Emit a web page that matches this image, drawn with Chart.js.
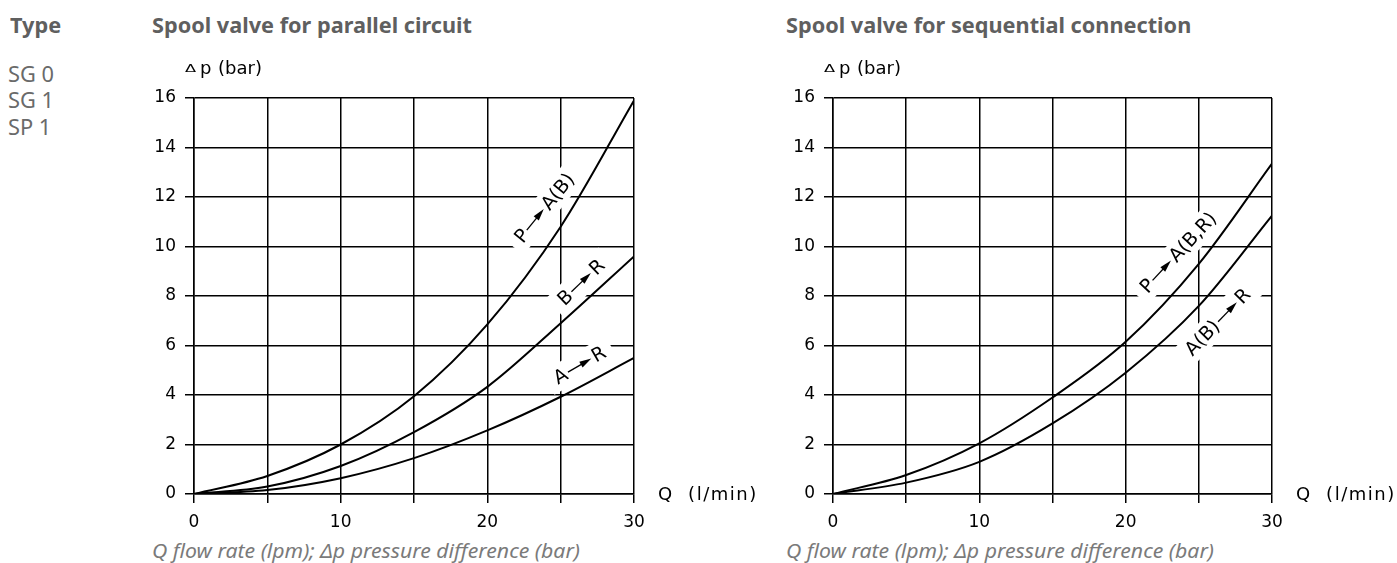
<!DOCTYPE html>
<html>
<head>
<meta charset="utf-8">
<script src="https://cdn.jsdelivr.net/npm/chart.js@4.4.1/dist/chart.umd.min.js"></script>
<style>
body{margin:0;background:#fff;width:1397px;height:563px;overflow:hidden;position:relative;font-family:"Noto Sans",sans-serif;}
.t{position:absolute;white-space:nowrap;transform-origin:0 50%;line-height:22px;}
.b{font-weight:bold;font-size:21px;color:#5f5f5f}
.r{font-size:21px;color:#6a6a6a}
.i{font-style:italic;font-size:20px;color:#7a7a7a}
canvas{position:absolute}
</style>
</head>
<body>
<div class="t b" style="left:10px;top:14px">Type</div>
<div class="t r" style="left:8px;top:63px">SG 0</div>
<div class="t r" style="left:8px;top:89px">SG 1</div>
<div class="t r" style="left:8px;top:116px">SP 1</div>

<div class="t b" id="title1" style="left:152px;top:14px">Spool valve for parallel circuit</div>
<div class="t b" style="left:786px;top:14px">Spool valve for sequential connection</div>

<div class="t i" id="cap1" style="left:152px;top:540px">Q flow rate (lpm); Δp pressure difference (bar)</div>
<div class="t i" style="left:786px;top:540px">Q flow rate (lpm); Δp pressure difference (bar)</div>

<canvas id="c1" width="640" height="480" style="left:130px;top:55px"></canvas>
<canvas id="c2" width="627" height="480" style="left:770px;top:55px"></canvas>

<script>
// flow Q (l/min)
const qFlow = [0, 5, 10, 15, 20, 25, 30];

// parallel circuit, pressure drop (bar)
const parPA = [0, 0.73, 2.0, 3.95, 6.85, 10.8, 15.9];
const parBR = [0, 0.3, 1.13, 2.5, 4.33, 6.9, 9.6];
const parAR = [0, 0.16, 0.64, 1.45, 2.57, 3.93, 5.5];

// sequential connection
const seqPA = [0, 0.77, 2.05, 3.9, 6.15, 9.3, 13.35];
const seqAR = [0, 0.46, 1.3, 2.85, 4.9, 7.6, 11.25];

const xTickLabels = [0, 10, 20, 30];
const yTicks = [0, 2, 4, 6, 8, 10, 12, 14, 16];

// curve labels: from, to, position in data units, angle
const parLabels = [
  {from: 'P', to: 'A(B)', x: 23.9, y: 11.55, a: -51},
  {from: 'B', to: 'R', x: 26.4, y: 8.55, a: -44},
  {from: 'A', to: 'R', x: 26.3, y: 5.2, a: -30}
];
const seqLabels = [
  {from: 'P', to: 'A(B,R)', x: 23.6, y: 9.75, a: -47},
  {from: 'A(B)', to: 'R', x: 26.3, y: 6.95, a: -46}
];

const tickFont = {family: 'DejaVu Sans', size: 17};

function pts(ys){
  return qFlow.map((q, i) => ({x: q, y: ys[i]}));
}

function drawFlow(ctx, chart, it){
  const px = chart.scales.x.getPixelForValue(it.x);
  const py = chart.scales.y.getPixelForValue(it.y);
  ctx.save();
  ctx.font = '19px "DejaVu Sans"';
  const wa = ctx.measureText(it.from).width;
  const wb = ctx.measureText(it.to).width;
  const arrow = 27, gap = 2;
  const total = wa + gap + arrow + gap + wb;
  ctx.translate(px, py);
  ctx.rotate(it.a * Math.PI / 180);
  ctx.fillStyle = '#fff';
  ctx.fillRect(-total/2 - 8, -13, total + 16, 26);
  ctx.fillStyle = '#000';
  ctx.strokeStyle = '#000';
  ctx.textBaseline = 'middle';
  ctx.textAlign = 'left';
  let x = -total/2;
  ctx.fillText(it.from, x, 1);
  x += wa + gap;
  ctx.lineWidth = 1.3;
  ctx.beginPath(); ctx.moveTo(x, 0); ctx.lineTo(x + arrow - 8, 0); ctx.stroke();
  ctx.beginPath(); ctx.moveTo(x + arrow, 0); ctx.lineTo(x + arrow - 12, -3.3); ctx.lineTo(x + arrow - 12, 3.3); ctx.closePath(); ctx.fill();
  x += arrow + gap;
  ctx.fillText(it.to, x, 1);
  ctx.restore();
}

const deco = {
  id: 'deco',
  beforeDatasetsDraw(chart, args, opts){
    const ctx = chart.ctx;
    opts.items.forEach(it => drawFlow(ctx, chart, it));
  },
  afterDraw(chart){
    const ctx = chart.ctx, a = chart.chartArea;
    ctx.save();
    ctx.fillStyle = '#000';
    ctx.textBaseline = 'middle';
    ctx.textAlign = 'left';
    ctx.font = '18px "DejaVu Sans"';
    ctx.letterSpacing = '1.5px';
    ctx.fillText('Q  (l/min)', a.right + 24, a.bottom + 1);
    ctx.letterSpacing = '0px';
    ctx.textBaseline = 'alphabetic';
    // small raised delta, then p (bar)
    ctx.save();
    ctx.translate(a.left - 9, a.top - 26);
    ctx.scale(1.25, 0.8);
    ctx.font = '13px "DejaVu Sans"';
    ctx.fillText('Δ', 0, 0);
    ctx.restore();
    ctx.font = '18px "DejaVu Sans"';
    ctx.fillText('p', a.left + 6, a.top - 24);
    ctx.fillText('(bar)', a.left + 24, a.top - 24);
    ctx.restore();
  }
};

function makeChart(id, series, labels, yw, rightPad){
  return new Chart(document.getElementById(id), {
    type: 'line',
    data: {
      datasets: series.map(s => ({
        data: pts(s),
        borderColor: '#000',
        borderWidth: 2,
        pointRadius: 0,
        cubicInterpolationMode: 'monotone',
        fill: false
      }))
    },
    options: {
      responsive: false,
      animation: false,
      layout: {padding: {top: 43, right: rightPad, bottom: 0, left: 0}},
      plugins: {legend: {display: false}, tooltip: {enabled: false}, deco: {items: labels}},
      scales: {
        x: {
          type: 'linear', min: 0, max: 30,
          afterFit: s => { s.height = 41; },
          ticks: {stepSize: 5, color: '#000', font: tickFont, padding: 9, maxRotation: 0,
            callback: v => xTickLabels.includes(v) ? String(v) : ''},
          grid: {color: '#000', lineWidth: 1.5, tickLength: 9},
          border: {color: '#000', width: 1.5}
        },
        y: {
          min: 0, max: 16,
          afterFit: s => { s.width = yw; },
          afterBuildTicks: s => { s.ticks = yTicks.map(v => ({value: v})); },
          ticks: {color: '#000', font: tickFont, padding: 9},
          grid: {color: '#000', lineWidth: 1.5, tickLength: 9},
          border: {color: '#000', width: 1.5}
        }
      }
    },
    plugins: [deco]
  });
}

makeChart('c1', [parPA, parBR, parAR], parLabels, 64, 136);
makeChart('c2', [seqPA, seqAR], seqLabels, 63, 125);

// the reference uses a narrow sans; squeeze each text group by one factor
function squeeze(sel, refEl, target){
  const k = target / refEl.getBoundingClientRect().width;
  document.querySelectorAll(sel).forEach(el => { el.style.transform = 'scaleX(' + k + ')'; });
}
squeeze('.b', document.getElementById('title1'), 320);
squeeze('.i', document.getElementById('cap1'), 428);
squeeze('.r', document.querySelector('.r'), 46);
</script>
</body>
</html>
